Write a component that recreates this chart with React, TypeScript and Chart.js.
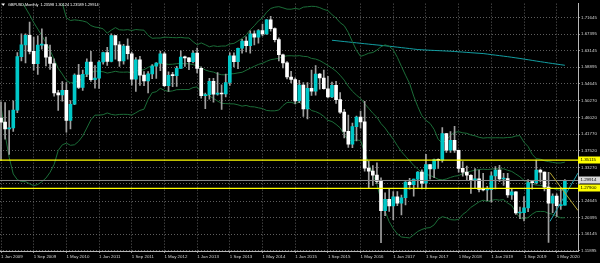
import React, { useEffect, useRef } from 'react';
import { Chart, registerables } from 'chart.js';

Chart.register(...registerables);

// ---------- data (monthly bars from Jan 2009 to Jul 2020) ----------
const headerTitle = 'GBPUSD,Monthly';
const headerValues = ['1.23598', '1.30124', '1.23589', '1.29914'];

const opens = [
  1.4590, 1.4485, 1.4311, 1.4334, 1.4794, 1.6163, 1.6461, 1.6705, 1.6296, 1.5982, 1.6457, 1.6470,
  1.6148, 1.5985, 1.5234, 1.5180, 1.5302, 1.4527, 1.4943, 1.5686, 1.5373, 1.5710, 1.6020, 1.5570,
  1.5610, 1.6025, 1.6262, 1.6040, 1.6700, 1.6463, 1.6052, 1.6430, 1.6234, 1.5585, 1.6080, 1.5688,
  1.5537, 1.5718, 1.5920, 1.5995, 1.6235, 1.5415, 1.5685, 1.5675, 1.5860, 1.6150, 1.6130, 1.6030,
  1.6255, 1.5860, 1.5165, 1.5190, 1.5530, 1.5200, 1.5210, 1.5205, 1.5500, 1.6185, 1.6035, 1.6375,
  1.6560, 1.6440, 1.6745, 1.6660, 1.6830, 1.6740, 1.7105, 1.6880, 1.6595, 1.6210, 1.6000, 1.5640,
  1.5575, 1.5030, 1.5435, 1.4825, 1.5350, 1.5280, 1.5712, 1.5615, 1.5340, 1.5130, 1.5430, 1.5060,
  1.4740, 1.4250, 1.3920, 1.4370, 1.4612, 1.4490, 1.3310, 1.3230, 1.3130, 1.2970, 1.2220, 1.2510,
  1.2340, 1.2575, 1.2410, 1.2550, 1.2950, 1.2885, 1.3025, 1.3205, 1.2925, 1.3400, 1.3285, 1.3525,
  1.3510, 1.4190, 1.3770, 1.4020, 1.3765, 1.3300, 1.3205, 1.3125, 1.2995, 1.3035, 1.2765, 1.2750,
  1.2755, 1.3110, 1.3260, 1.3030, 1.3040, 1.2620, 1.2700, 1.2160, 1.2165, 1.2290, 1.2940, 1.2935,
  1.3260, 1.3205, 1.2820, 1.2410, 1.2590, 1.2350, 1.23598,
];

const highs = [
  1.5003, 1.4985, 1.4780, 1.5030, 1.6264, 1.6745, 1.6744, 1.7043, 1.6660, 1.6692, 1.6876, 1.6660,
  1.6457, 1.6108, 1.5302, 1.5523, 1.5496, 1.5035, 1.5720, 1.5965, 1.5814, 1.6105, 1.6298, 1.5932,
  1.6060, 1.6279, 1.6401, 1.6746, 1.6703, 1.6546, 1.6475, 1.6618, 1.6278, 1.6139, 1.6166, 1.5780,
  1.5778, 1.5960, 1.6006, 1.6301, 1.6280, 1.5775, 1.5760, 1.5910, 1.6309, 1.6175, 1.6140, 1.6308,
  1.6380, 1.5900, 1.5230, 1.5605, 1.5606, 1.5752, 1.5440, 1.5717, 1.6260, 1.6260, 1.6380, 1.6602,
  1.6668, 1.6822, 1.6822, 1.6855, 1.6996, 1.7111, 1.7191, 1.6897, 1.6644, 1.6227, 1.6035, 1.5786,
  1.5620, 1.5552, 1.5498, 1.5497, 1.5815, 1.5930, 1.5735, 1.5819, 1.5659, 1.5509, 1.5529, 1.5240,
  1.4815, 1.4668, 1.4459, 1.4639, 1.4770, 1.5018, 1.3480, 1.3373, 1.3445, 1.3058, 1.2675, 1.2775,
  1.2706, 1.2706, 1.2615, 1.2965, 1.3048, 1.3030, 1.3219, 1.3266, 1.3658, 1.3405, 1.3539, 1.3549,
  1.4346, 1.4200, 1.4245, 1.4377, 1.3770, 1.3473, 1.3363, 1.3143, 1.3298, 1.3258, 1.3175, 1.2840,
  1.3215, 1.3350, 1.3381, 1.3175, 1.3176, 1.2784, 1.2709, 1.2310, 1.2582, 1.3013, 1.2985, 1.3514,
  1.3285, 1.3212, 1.3200, 1.2648, 1.2648, 1.2813, 1.30124,
];

const lows = [
  1.3503, 1.4050, 1.3657, 1.4250, 1.4727, 1.6050, 1.6003, 1.6228, 1.5813, 1.5706, 1.6353, 1.5925,
  1.5831, 1.5152, 1.4783, 1.5024, 1.4229, 1.4312, 1.4932, 1.5343, 1.5295, 1.5650, 1.5530, 1.5352,
  1.5345, 1.5967, 1.5934, 1.6024, 1.6094, 1.5911, 1.5971, 1.6096, 1.5431, 1.5273, 1.5422, 1.5421,
  1.5233, 1.5600, 1.5602, 1.5805, 1.5395, 1.5269, 1.5395, 1.5400, 1.5860, 1.5914, 1.5828, 1.6000,
  1.5745, 1.5100, 1.4832, 1.5075, 1.4998, 1.5175, 1.4813, 1.5130, 1.5425, 1.5895, 1.5855, 1.6250,
  1.6285, 1.6253, 1.6460, 1.6509, 1.6693, 1.6732, 1.6810, 1.6535, 1.6052, 1.5875, 1.5590, 1.5486,
  1.4952, 1.4985, 1.4634, 1.4565, 1.5170, 1.5175, 1.5330, 1.5330, 1.5107, 1.5108, 1.4962, 1.4705,
  1.4080, 1.3836, 1.3834, 1.4006, 1.4331, 1.3229, 1.2798, 1.2866, 1.2914, 1.1400, 1.2088, 1.2200,
  1.1986, 1.2345, 1.2109, 1.2365, 1.2769, 1.2589, 1.2811, 1.2774, 1.2775, 1.3027, 1.3062, 1.3303,
  1.3459, 1.3712, 1.3711, 1.3711, 1.3204, 1.3100, 1.3011, 1.2662, 1.2785, 1.2696, 1.2722, 1.2476,
  1.2438, 1.2773, 1.2960, 1.2866, 1.2560, 1.2506, 1.2120, 1.2015, 1.1958, 1.2196, 1.2769, 1.2905,
  1.2955, 1.2725, 1.1409, 1.2165, 1.2075, 1.2252, 1.23589,
];

const closes = [
  1.4485, 1.4311, 1.4334, 1.4794, 1.6163, 1.6461, 1.6705, 1.6296, 1.5982, 1.6457, 1.6470, 1.6148,
  1.5985, 1.5234, 1.5180, 1.5302, 1.4527, 1.4943, 1.5686, 1.5373, 1.5710, 1.6020, 1.5570, 1.5610,
  1.6025, 1.6262, 1.6040, 1.6700, 1.6463, 1.6052, 1.6430, 1.6234, 1.5585, 1.6080, 1.5688, 1.5537,
  1.5718, 1.5920, 1.5995, 1.6235, 1.5415, 1.5685, 1.5675, 1.5860, 1.6150, 1.6130, 1.6030, 1.6255,
  1.5860, 1.5165, 1.5190, 1.5530, 1.5200, 1.5210, 1.5205, 1.5500, 1.6185, 1.6035, 1.6375, 1.6560,
  1.6440, 1.6745, 1.6660, 1.6830, 1.6740, 1.7105, 1.6880, 1.6595, 1.6210, 1.6000, 1.5640, 1.5575,
  1.5030, 1.5435, 1.4825, 1.5350, 1.5280, 1.5712, 1.5615, 1.5340, 1.5130, 1.5430, 1.5060, 1.4740,
  1.4250, 1.3920, 1.4370, 1.4612, 1.4490, 1.3310, 1.3230, 1.3130, 1.2970, 1.2220, 1.2510, 1.2340,
  1.2575, 1.2410, 1.2550, 1.2950, 1.2885, 1.3025, 1.3205, 1.2925, 1.3400, 1.3285, 1.3525, 1.3510,
  1.4190, 1.3770, 1.4020, 1.3765, 1.3300, 1.3205, 1.3125, 1.2995, 1.3035, 1.2765, 1.2750, 1.2755,
  1.3110, 1.3260, 1.3030, 1.3040, 1.2620, 1.2700, 1.2160, 1.2165, 1.2290, 1.2940, 1.2935, 1.3260,
  1.3205, 1.2820, 1.2410, 1.2590, 1.2350, 1.2360, 1.29914,
];

// closes of the 19 months before Jan 2009 (Jun 2007 .. Dec 2008), needed by the 20-bar bands
const closesBefore = [
  2.0070, 2.0320, 2.0160, 2.0450, 2.0800, 2.0580, 1.9850,
  1.9890, 1.9850, 1.9840, 1.9780, 1.9775, 1.9900, 1.9830, 1.8215, 1.7820, 1.6190, 1.5380, 1.4620,
];
const bandPeriod = 20;
const bandDeviation = 2;

// long moving average (teal), starting at bar index 81 (Oct 2015)
const longMaStart = 81;
const longMa = [
  1.6580, 1.6570, 1.6558, 1.6547, 1.6536, 1.6525, 1.6514, 1.6503, 1.6492, 1.6481,
  1.6470, 1.6460, 1.6450, 1.6440, 1.6428, 1.6416, 1.6404, 1.6392, 1.6380, 1.6368,
  1.6355, 1.6343, 1.6337, 1.6330, 1.6325, 1.6320, 1.6315, 1.6310, 1.6305, 1.6300,
  1.6293, 1.6285, 1.6278, 1.6270, 1.6262, 1.6255, 1.6247, 1.6240, 1.6227, 1.6213,
  1.6200, 1.6187, 1.6173, 1.6160, 1.6145, 1.6130, 1.6115, 1.6098, 1.6082, 1.6065,
  1.6048, 1.6032, 1.6016, 1.6000, 1.5985, 1.5970, 1.5955, 1.5940,
];

const priceTicks = [
  1.71645, 1.67395, 1.63145, 1.58895, 1.54645, 1.50270, 1.46020, 1.41770,
  1.37520, 1.33270, 1.29020, 1.24645, 1.20395, 1.16145, 1.11895,
];
const hiddenPriceTicks = [1.29020];

const dateTickIndex = [0, 8, 16, 24, 32, 40, 48, 56, 64, 72, 80, 88, 96, 104, 112, 120, 128, 136];
const dateLabels = [
  '1 Jan 2009', '1 Sep 2009', '1 May 2010', '1 Jan 2011', '1 Sep 2011', '1 May 2012',
  '1 Jan 2013', '1 Sep 2013', '1 May 2014', '1 Jan 2015', '1 Sep 2015', '1 May 2016',
  '1 Jan 2017', '1 Sep 2017', '1 May 2018', '1 Jan 2019', '1 Sep 2019', '1 May 2020',
];

const levelPrices = [1.35115, 1.27900];
const bidPrice = 1.29914;

// user trend lines: [bar index, price] end points
const trendYellow = [[134.35, 1.3193], [141.2, 1.2223]];
const trendTeal = [[134.35, 1.1945], [141.2, 1.3181]];

// ---------- styling ----------
const BULL = '#00c8c8';
const BEAR = '#ffffff';
const WICK = '#a0a0a0';
const BAND = '#1b6d38';
const GRID = '#5e5e5e';
const TEXT = '#d4d4d4';
const FONT = 'Liberation Sans';

const X_MIN = -0.2447;
const X_MAX = 141.21;
const Y_MIN = 1.1187;
const Y_MAX = 1.75175;

function computeBands(src: number[], skip: number, period: number, dev: number) {
  const mid: number[] = [];
  const up: number[] = [];
  const lo: number[] = [];
  for (let i = skip; i < src.length; i++) {
    const w = src.slice(i - period + 1, i + 1);
    const m = w.reduce((a, b) => a + b, 0) / period;
    const sd = Math.sqrt(w.reduce((a, b) => a + (b - m) * (b - m), 0) / period);
    mid.push(m);
    up.push(m + dev * sd);
    lo.push(m - dev * sd);
  }
  return { mid, up, lo };
}

export default function App() {
  const ref = useRef<HTMLCanvasElement>(null);

  useEffect(() => {
    document.body.style.margin = '0';
    document.body.style.background = '#000';
    const canvas = ref.current;
    if (!canvas) return;

    const bands = computeBands([...closesBefore, ...closes], closesBefore.length, bandPeriod, bandDeviation);
    const bull = closes.map((c, i) => c >= opens[i]);
    const toPts = (arr: number[], start = 0) => arr.map((v, i) => ({ x: i + start, y: v }));

    const bgPlugin = {
      id: 'bg',
      beforeDraw(chart: any) {
        const ctx = chart.ctx;
        ctx.save();
        ctx.fillStyle = '#000';
        ctx.fillRect(0, 0, chart.width, chart.height);
        ctx.restore();
      },
    };

    const overlayPlugin = {
      id: 'overlay',
      afterDraw(chart: any) {
        const ctx = chart.ctx;
        const ys = chart.scales.y;
        const right = chart.chartArea.right;
        ctx.save();
        const drawBox = (price: number, fill: string) => {
          const y = ys.getPixelForValue(price);
          ctx.fillStyle = fill;
          ctx.fillRect(right, Math.round(y) - 3.5, chart.width - right, 7);
          ctx.fillStyle = '#000';
          ctx.font = `4.4px "${FONT}"`;
          ctx.textBaseline = 'middle';
          ctx.textAlign = 'left';
          ctx.fillText(price.toFixed(5), right + 2.5, Math.round(y));
        };
        levelPrices.forEach((p) => drawBox(p, '#ffff00'));
        drawBox(bidPrice, '#d8d8d8');

        // header
        ctx.fillStyle = '#ffffff';
        ctx.beginPath();
        ctx.moveTo(1.5, 3.5);
        ctx.lineTo(5, 3.5);
        ctx.lineTo(3.25, 6);
        ctx.closePath();
        ctx.fill();
        ctx.font = `3.8px "${FONT}"`;
        ctx.textBaseline = 'middle';
        ctx.textAlign = 'left';
        ctx.fillText(`${headerTitle}  ${headerValues.join(' ')}`, 8, 5);
        ctx.restore();
      },
    };

    const line = (data: any[], color: string, width: number, order: number) => ({
      type: 'line' as const,
      data,
      borderColor: color,
      borderWidth: width,
      pointRadius: 0,
      pointHoverRadius: 0,
      fill: false,
      tension: 0,
      order,
    });

    const chart = new Chart(canvas, {
      type: 'bar',
      data: {
        datasets: [
          line(toPts(bands.up), BAND, 1, 6),
          line(toPts(bands.mid), BAND, 1, 6),
          line(toPts(bands.lo), BAND, 1, 6),
          line(toPts(longMa, longMaStart), '#129ea2', 1, 6),
          {
            type: 'bar',
            data: closes.map((_, i) => ({ x: i, y: [lows[i], highs[i]] })),
            backgroundColor: WICK,
            borderWidth: 0,
            barThickness: 1,
            grouped: false,
            order: 4,
          } as any,
          {
            type: 'bar',
            data: closes.map((c, i) => ({ x: i, y: [opens[i], c] })),
            backgroundColor: bull.map((b) => (b ? BULL : BEAR)),
            borderWidth: 0,
            barThickness: 3,
            minBarLength: 1,
            grouped: false,
            order: 3,
          } as any,
          line([{ x: X_MIN - 1, y: bidPrice }, { x: X_MAX + 1, y: bidPrice }], '#8a8a8a', 1, 2),
          ...levelPrices.map((p) => line([{ x: X_MIN - 1, y: p }, { x: X_MAX + 1, y: p }], '#ffff00', 1.3, 1)),
          line(trendYellow.map(([x, y]) => ({ x, y })), '#b3a232', 1, 1),
          line(trendTeal.map(([x, y]) => ({ x, y })), '#1f9fab', 1, 1),
        ] as any,
      },
      options: {
        responsive: false,
        devicePixelRatio: 1,
        animation: false,
        events: [],
        layout: { padding: 0 },
        plugins: { legend: { display: false }, tooltip: { enabled: false } },
        scales: {
          x: {
            type: 'linear',
            min: X_MIN,
            max: X_MAX,
            offset: false,
            grid: { color: GRID, lineWidth: 1, offset: false, drawTicks: true, tickLength: 2, tickColor: '#8a8a8a' },
            border: { display: true, color: '#b8b8b8', dash: [1, 2] },
            afterBuildTicks: (axis: any) => {
              axis.ticks = dateTickIndex.map((v) => ({ value: v }));
            },
            afterFit: (axis: any) => {
              axis.height = 12;
            },
            ticks: {
              autoSkip: false,
              maxRotation: 0,
              minRotation: 0,
              align: 'start',
              padding: 1,
              color: TEXT,
              font: { family: FONT, size: 4.4 },
              callback: (v: any) => {
                const k = dateTickIndex.indexOf(Number(v));
                return k >= 0 ? dateLabels[k] : '';
              },
            },
          },
          y: {
            type: 'linear',
            position: 'right',
            min: Y_MIN,
            max: Y_MAX,
            grid: { color: GRID, lineWidth: 1, drawTicks: true, tickLength: 2, tickColor: '#8a8a8a' },
            border: { display: true, color: '#b8b8b8', dash: [1, 2] },
            afterBuildTicks: (axis: any) => {
              axis.ticks = priceTicks.map((v) => ({ value: v }));
            },
            afterFit: (axis: any) => {
              axis.width = 22;
            },
            ticks: {
              autoSkip: false,
              padding: 1,
              color: TEXT,
              font: { family: FONT, size: 4.4 },
              callback: (v: any) => (hiddenPriceTicks.includes(Number(v)) ? '' : Number(v).toFixed(5)),
            },
          },
        },
      } as any,
      plugins: [bgPlugin, overlayPlugin],
    });

    return () => chart.destroy();
  }, []);

  return (
    <div style={{ position: 'fixed', left: 0, top: 0, width: 600, height: 263, background: '#000' }}>
      <canvas ref={ref} width={600} height={263} style={{ display: 'block', width: 600, height: 263 }} />
    </div>
  );
}
